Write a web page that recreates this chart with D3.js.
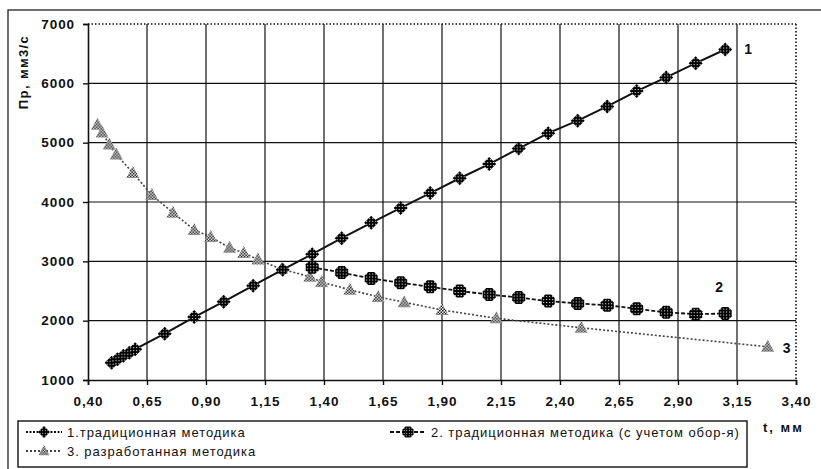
<!DOCTYPE html>
<html><head><meta charset="utf-8">
<script src="https://cdn.jsdelivr.net/npm/d3@7"></script>
<style>body{margin:0;background:#fff}svg{display:block;font-family:"Liberation Sans",Arial,sans-serif}</style>
</head><body><svg id="c" width="821" height="469"></svg>
<script>
// ---- data ----
const xTicks = [0.40,0.65,0.90,1.15,1.40,1.65,1.90,2.15,2.40,2.65,2.90,3.15,3.40];
const yTicks = [1000,2000,3000,4000,5000,6000,7000];
const s1x = [0.50,0.525,0.55,0.575,0.60,0.725,0.85,0.975,1.10,1.225,1.35,1.475,1.60,1.725,1.85,1.975,2.10,2.225,2.35,2.475,2.60,2.725,2.85,2.975,3.10];
const s1y = [1290,1350,1410,1460,1520,1780,2060,2320,2590,2860,3120,3390,3650,3900,4150,4400,4640,4900,5160,5370,5610,5870,6100,6340,6570];
const s2x = [1.35,1.475,1.60,1.725,1.85,1.975,2.10,2.225,2.35,2.475,2.60,2.725,2.85,2.975,3.10];
const s2y = [2900,2810,2710,2640,2570,2500,2440,2390,2330,2290,2260,2200,2140,2110,2120];
const s3x = [0.44,0.46,0.49,0.52,0.59,0.67,0.76,0.85,0.92,1.00,1.06,1.12,1.22,1.34,1.39,1.51,1.63,1.74,1.90,2.13,2.49,3.28];
const s3y = [5300,5170,4970,4800,4490,4120,3820,3530,3410,3230,3140,3030,2870,2740,2650,2520,2400,2310,2180,2040,1880,1560];
const seriesNames = ["1.традиционная методика","2. традиционная методика (с учетом обор-я)","3. разработанная методика"];
const endLabels = ["1","2","3"];
const yTitle = "Пр, мм3/с";
const xTitle = "t, мм";

const svg = d3.select("#c");
const defs = svg.append("defs");
function pat(id, dark){
  const p = defs.append("pattern").attr("id",id).attr("width",3).attr("height",3).attr("patternUnits","userSpaceOnUse");
  if(dark){
    p.append("rect").attr("width",3).attr("height",3).attr("fill","#000");
    p.append("rect").attr("x",1).attr("y",1).attr("width",1).attr("height",1).attr("fill","#fff");
  } else {
    p.append("rect").attr("width",3).attr("height",3).attr("fill","#fff");
    p.append("rect").attr("x",0).attr("y",0).attr("width",1.5).attr("height",1.5).attr("fill","#111");
    p.append("rect").attr("x",1.5).attr("y",1.5).attr("width",1.5).attr("height",1.5).attr("fill","#111");
  }
}
pat("dark",true); pat("light",false);

// outer frame
svg.append("rect").attr("x",8).attr("y",10).attr("width",840).attr("height",480)
  .attr("fill","none").attr("stroke","#222").attr("stroke-width",1.3);

const x = d3.scaleLinear().domain([0.4,3.4]).range([88,796]);
const y = d3.scaleLinear().domain([1000,7000]).range([380,24]);

// grid
const g = svg.append("g");
g.selectAll("line.v").data(xTicks.slice(1,-1)).join("line")
  .attr("x1",d=>x(d)).attr("x2",d=>x(d)).attr("y1",y(7000)).attr("y2",y(1000))
  .attr("stroke","#111").attr("stroke-width",1.2);
g.selectAll("line.h").data(yTicks.slice(1,-1)).join("line")
  .attr("x1",x(0.4)).attr("x2",x(3.4)).attr("y1",d=>y(d)).attr("y2",d=>y(d))
  .attr("stroke","#111").attr("stroke-width",1.2);
g.append("line").attr("x1",x(0.4)).attr("x2",x(3.4)).attr("y1",y(7000)).attr("y2",y(7000))
  .attr("stroke","#111").attr("stroke-width",1.6).attr("stroke-dasharray","1.5,2");
g.append("line").attr("x1",x(3.4)).attr("x2",x(3.4)).attr("y1",y(7000)).attr("y2",y(1000))
  .attr("stroke","#111").attr("stroke-width",1.6).attr("stroke-dasharray","1.5,2");

// axes
const fmt = d3.format(".2f");
const xAxis = svg.append("g").attr("transform",`translate(0,${y(1000)})`)
  .call(d3.axisBottom(x).tickValues(xTicks).tickSize(5).tickPadding(11).tickFormat(d=>fmt(d).replace(".",",")));
const yAxis = svg.append("g").attr("transform",`translate(${x(0.4)},0)`)
  .call(d3.axisLeft(y).tickValues(yTicks).tickSize(5).tickPadding(8).tickFormat(d3.format("d")));
[xAxis,yAxis].forEach(a=>{
  a.select(".domain").attr("stroke","#111").attr("stroke-width",1.6);
  a.selectAll(".tick line").attr("stroke","#111").attr("stroke-width",1.4);
  a.selectAll("text").attr("font-family","'Liberation Sans',Arial,sans-serif").attr("font-size",13.5)
    .attr("font-weight","bold").attr("fill","#111").attr("letter-spacing",0.9);
});

// axis titles
svg.append("text").attr("transform","translate(28,72) rotate(-90)").attr("text-anchor","middle")
  .attr("font-size",13).attr("font-weight","bold").attr("letter-spacing",1.4).attr("fill","#111").text(yTitle);
svg.append("text").attr("x",763).attr("y",432).attr("font-size",13).attr("font-weight","bold")
  .attr("letter-spacing",2).attr("fill","#111").text(xTitle);

// series
const diamondPath = "M0,-7L7,0L0,7L-7,0Z";
const blobPath = "M-3,-6.5L3,-6.5L6.5,-3L6.5,3L3,6.5L-3,6.5L-6.5,3L-6.5,-3Z";
const triPath = "M0,-7L6.5,5L-6.5,5Z";
const series = [
  {xs:s1x, ys:s1y, stroke:"#111", dash:null, w:2, sym:diamondPath, fill:"url(#dark)"},
  {xs:s2x, ys:s2y, stroke:"#111", dash:"4,2", w:1.8, sym:blobPath, fill:"url(#dark)"},
  {xs:s3x, ys:s3y, stroke:"#444", dash:"2,2", w:1.6, sym:triPath, fill:"url(#light)"}
];
const line = d3.line().x(d=>x(d[0])).y(d=>y(d[1]));
series.slice().reverse().forEach(s=>{
  const pts = s.xs.map((v,i)=>[v,s.ys[i]]);
  svg.append("path").datum(pts).attr("d",line).attr("fill","none").attr("stroke",s.stroke)
    .attr("stroke-width",s.w).attr("stroke-dasharray",s.dash);
  svg.append("g").selectAll("path").data(pts).join("path")
    .attr("d",s.sym).attr("transform",d=>`translate(${x(d[0])},${y(d[1])})`)
    .attr("fill",s.fill).attr("stroke","none");
});

// end labels
const lastPts = [[s1x[s1x.length-1],s1y[s1y.length-1]],[s2x[s2x.length-1],s2y[s2y.length-1]],[s3x[s3x.length-1],s3y[s3y.length-1]]];
const labOff = [[19,-1],[-10,-27],[15,1]];
endLabels.forEach((t,i)=>{
  svg.append("text").attr("x",x(lastPts[i][0])+labOff[i][0]).attr("y",y(lastPts[i][1])+labOff[i][1]+5)
    .attr("font-size",14).attr("font-weight","bold").attr("fill","#111").text(t);
});

// legend
svg.append("rect").attr("x",18).attr("y",421).attr("width",729).attr("height",46)
  .attr("fill","none").attr("stroke","#111").attr("stroke-width",1.4);
const legPos = [[26,432],[390,432],[26,451]];
series.forEach((s,i)=>{
  const [lx,ly] = legPos[i];
  svg.append("line").attr("x1",lx).attr("x2",lx+36).attr("y1",ly).attr("y2",ly)
    .attr("stroke",s.stroke).attr("stroke-width",1.8).attr("stroke-dasharray",i===0?"2,1.5":s.dash);
  svg.append("path").attr("d",s.sym).attr("transform",`translate(${lx+18},${ly}) scale(0.85)`).attr("fill",s.fill);
  svg.append("text").attr("x",lx+41).attr("y",ly+4.5).attr("font-size",13).attr("letter-spacing",0.95)
    .attr("fill","#111").text(seriesNames[i]);
});
</script></body></html>
